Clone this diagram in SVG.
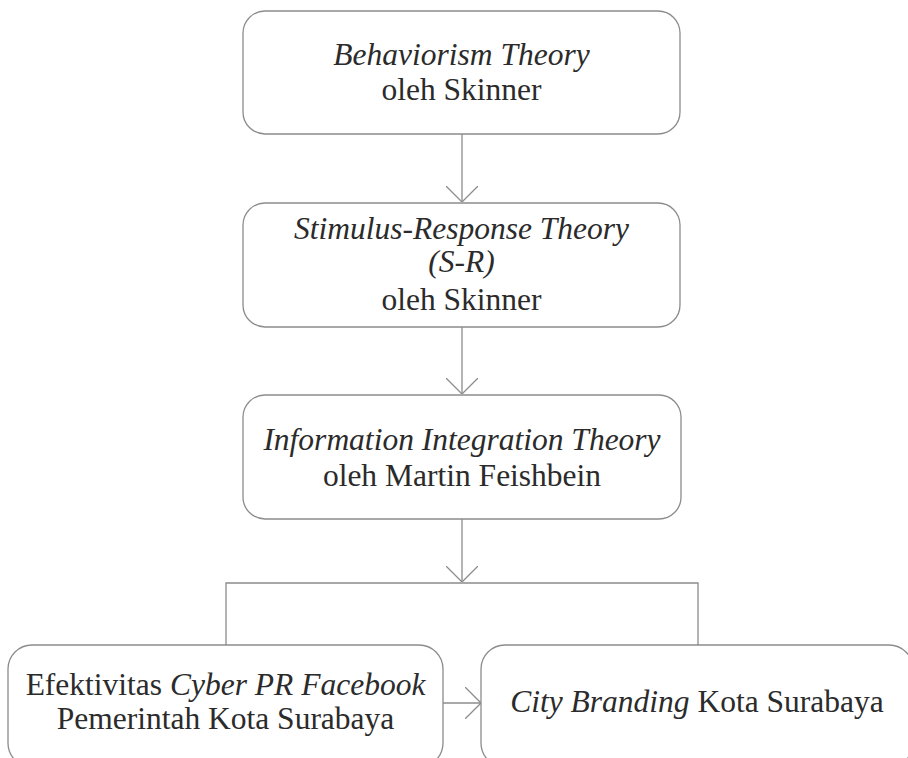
<svg xmlns="http://www.w3.org/2000/svg" width="908" height="758" viewBox="0 0 908 758">
<defs>
<style>
.box{fill:#fff;stroke:#8c8c8c;stroke-width:1.3}
.ln{fill:none;stroke:#8c8c8c;stroke-width:1.3}
.t{font-size:31.5px;fill:#2b2b2b;text-anchor:middle}
.i{font-style:italic}
</style>
<marker id="arr" viewBox="0 0 16 32" refX="16" refY="16" markerWidth="16" markerHeight="32" markerUnits="userSpaceOnUse" orient="auto">
<path d="M0,0 L16,16 L0,32" fill="none" stroke="#8c8c8c" stroke-width="1.3"/>
</marker>
</defs>
<rect width="908" height="758" fill="#fff"/>
<g id="connectors">
<line class="ln" x1="462" y1="134" x2="462" y2="202" marker-end="url(#arr)"/>
<line class="ln" x1="462" y1="327" x2="462" y2="394" marker-end="url(#arr)"/>
<line class="ln" x1="462" y1="519" x2="462" y2="582" marker-end="url(#arr)"/>
<polyline class="ln" points="226,645 226,583 698,583 698,645"/>
<line class="ln" x1="443" y1="703" x2="481" y2="703" marker-end="url(#arr)"/>
</g>
<g class="t" font-family="Times New Roman, Liberation Serif, serif">
<g id="n1">
<rect class="box" x="243" y="11" width="437" height="123" rx="22"/>
<text x="461.5" y="65" class="i">Behaviorism Theory</text>
<text x="461.5" y="100">oleh Skinner</text>
</g>
<g id="n2">
<rect class="box" x="243" y="203" width="437" height="124" rx="22"/>
<text x="461.5" y="239" class="i">Stimulus-Response Theory</text>
<text x="461.5" y="272" class="i">(S-R)</text>
<text x="461.5" y="310">oleh Skinner</text>
</g>
<g id="n3">
<rect class="box" x="243" y="395" width="438" height="124" rx="22"/>
<text x="462" y="450" class="i">Information Integration Theory</text>
<text x="462" y="486">oleh Martin Feishbein</text>
</g>
<g id="n4">
<rect class="box" x="8" y="645" width="435" height="122" rx="24"/>
<text x="225.5" y="695">Efektivitas <tspan class="i">Cyber PR Facebook</tspan></text>
<text x="225.5" y="729">Pemerintah Kota Surabaya</text>
</g>
<g id="n5">
<rect class="box" x="481" y="645" width="432" height="122" rx="24"/>
<text x="697" y="712"><tspan class="i">City Branding</tspan> Kota Surabaya</text>
</g>
</g>
</svg>
